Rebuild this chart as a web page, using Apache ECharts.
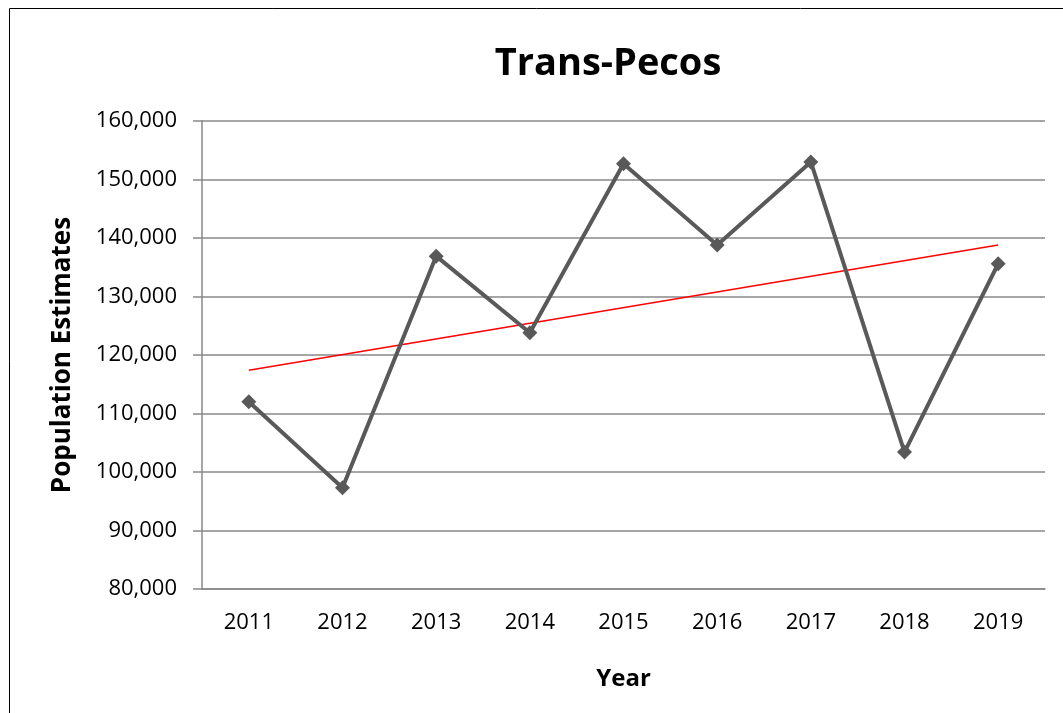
<!DOCTYPE html>
<html>
<head>
<meta charset="utf-8">
<script src="https://cdn.jsdelivr.net/npm/echarts@6/dist/echarts.min.js"></script>
<style>
  html, body { margin: 0; padding: 0; background: #fff; }
  #chart { width: 1063px; height: 713px; }
</style>
</head>
<body>
<div id="chart"></div>
<script>
const years = ['2011', '2012', '2013', '2014', '2015', '2016', '2017', '2018', '2019'];
const population = [112000, 97300, 136900, 123800, 152700, 138800, 153000, 103400, 135600];
// linear trendline, end points
const trend = [117400, null, null, null, null, null, null, null, 138800];

const myChart = echarts.init(document.getElementById('chart'));
const font = '"Open Sans", "Liberation Sans", sans-serif';

const option = {
    animation: false,
    textStyle: { fontFamily: font },
    title: {
        text: 'Trans-Pecos',
        left: 603,
        top: 40,
        textAlign: 'center',
        textStyle: { fontSize: 38, fontWeight: 'bold', color: '#000', fontFamily: font }
    },
    graphic: [
        {
            type: 'rect',
            shape: { x: 9.5, y: 8.5, width: 1100, height: 800 },
            style: { fill: 'none', stroke: '#000', lineWidth: 1 },
            silent: true
        }
    ],
    grid: { left: 202, top: 121, right: 18, bottom: 124 },
    xAxis: {
        type: 'category',
        data: years,
        boundaryGap: true,
        name: 'Year',
        nameLocation: 'middle',
        nameGap: 78,
        nameTextStyle: { fontSize: 24, fontWeight: 'bold', color: '#000', fontFamily: font },
        axisLine: { lineStyle: { color: '#888', width: 1.5 } },
        axisTick: { show: false },
        axisLabel: { fontSize: 22, color: '#000', margin: 23 }
    },
    yAxis: {
        type: 'value',
        min: 80000,
        max: 160000,
        interval: 10000,
        name: 'Population Estimates',
        nameLocation: 'middle',
        nameGap: 126,
        nameTextStyle: { fontSize: 26, fontWeight: 'bold', color: '#000', fontFamily: font },
        axisLine: { show: true, lineStyle: { color: '#888', width: 1.5 } },
        axisTick: { show: true, length: 9, lineStyle: { color: '#888', width: 1.5 } },
        axisLabel: {
            fontSize: 22,
            color: '#000',
            margin: 25,
            formatter: v => v.toLocaleString('en-US')
        },
        splitLine: { lineStyle: { color: '#888', width: 1.5 } }
    },
    series: [
        {
            name: 'Population',
            type: 'line',
            data: population,
            symbol: 'diamond',
            symbolSize: 15,
            lineStyle: { color: '#595959', width: 4 },
            itemStyle: { color: '#595959' },
            z: 3
        },
        {
            name: 'Trend',
            type: 'line',
            data: trend,
            connectNulls: true,
            symbol: 'none',
            lineStyle: { color: '#ff0000', width: 1.5 },
            z: 2
        }
    ]
};

myChart.setOption(option);
</script>
</body>
</html>
